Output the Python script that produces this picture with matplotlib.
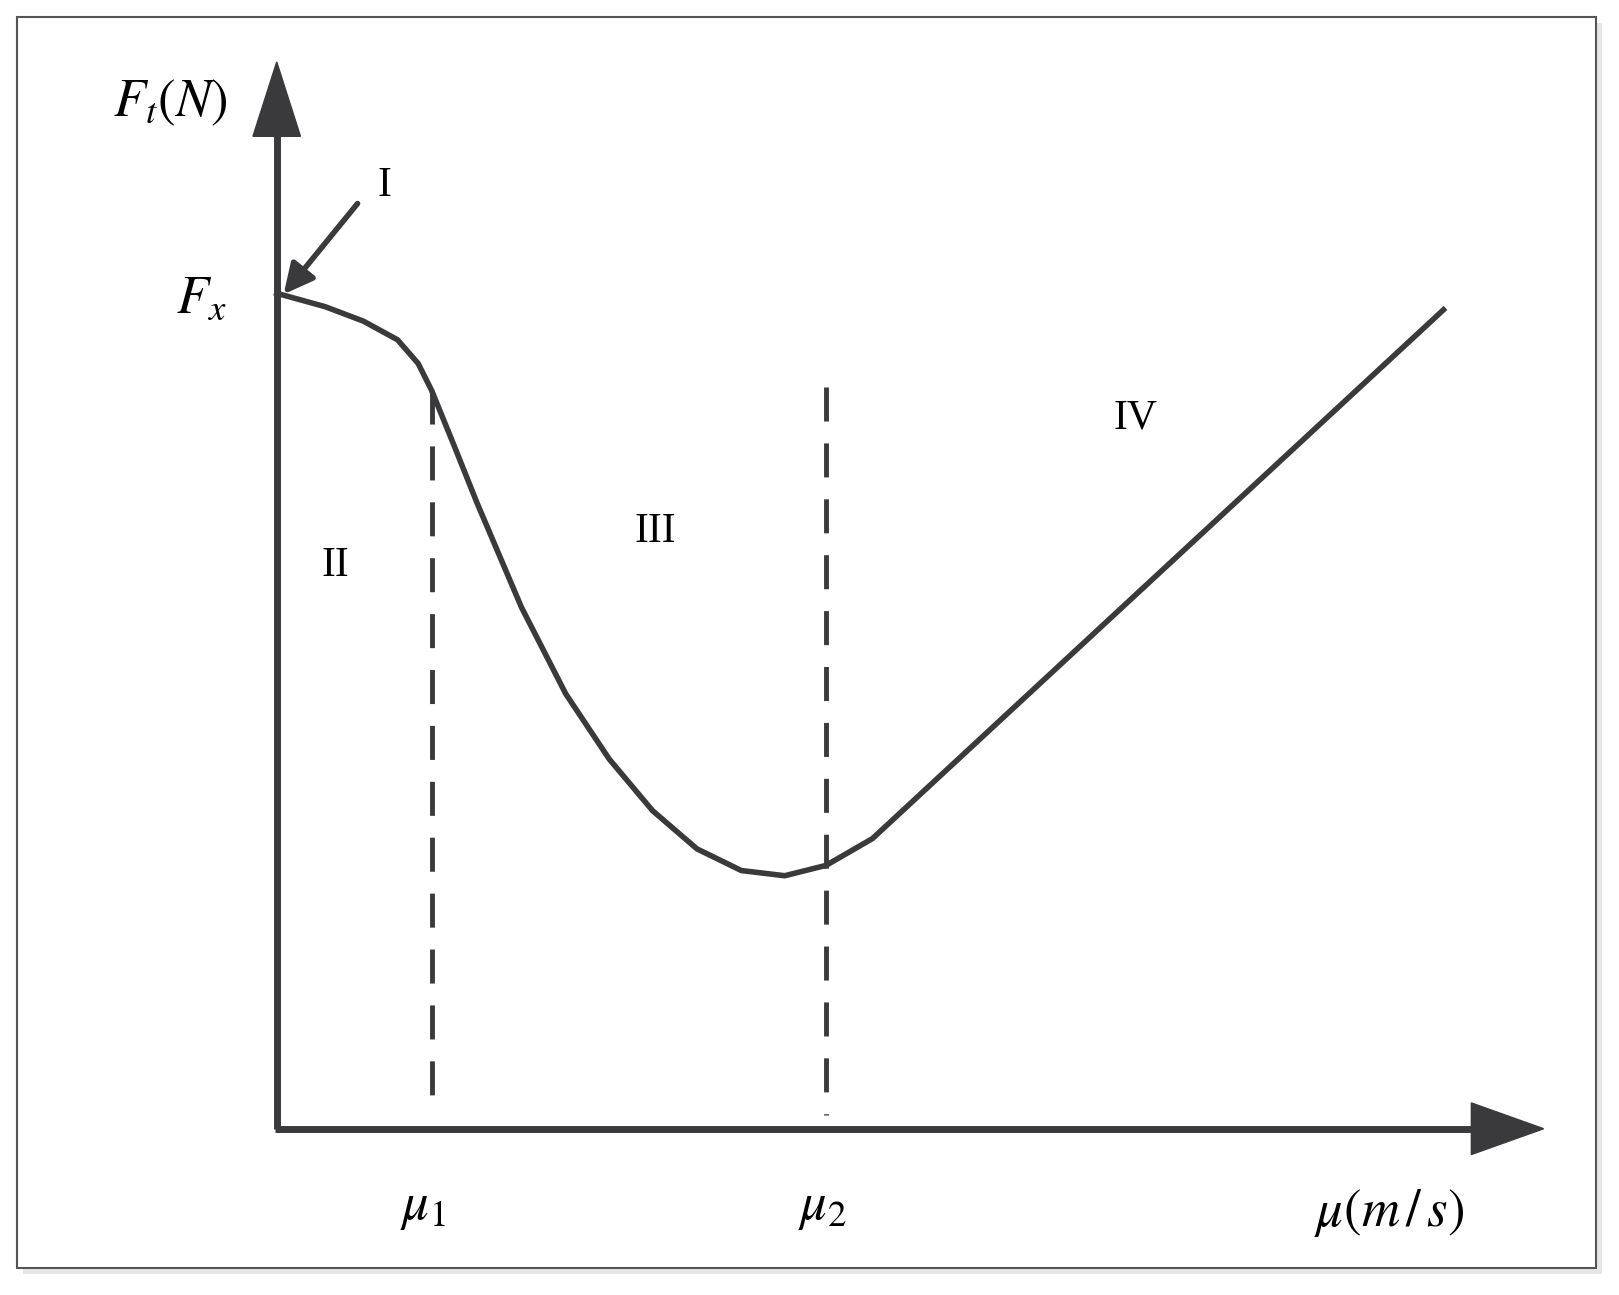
import matplotlib
matplotlib.use("Agg")
import matplotlib.pyplot as plt
from matplotlib.patches import Polygon, Rectangle, FancyArrowPatch

plt.rcParams['mathtext.fontset'] = 'stix'
plt.rcParams['font.family'] = ['Liberation Serif', 'DejaVu Serif']

# curve (image-space units, y downward)
curve_x = [268, 315, 352, 385, 405, 418, 440, 462, 505, 548, 590, 632, 675, 718, 760, 800, 845, 1398]
curve_y = [284, 297, 311, 329, 352, 378, 432, 487, 588, 672, 735, 785, 822, 843, 848, 838, 812, 300]
dash_x = [418, 800]
dash_top = [378, 375]
region_labels = ["I", "II", "III", "IV"]
region_pos = [(372, 180), (325, 548), (635, 515), (1100, 405)]

C = '#3a3a3c'
fig = plt.figure(figsize=(16.19, 12.95), dpi=100)
ax = fig.add_axes([0, 0, 1, 1])
ax.set_xlim(0, 1568); ax.set_ylim(1254, 0); ax.axis('off')

ax.add_patch(Rectangle((22, 22), 1530, 1212, fc='#e6e6e6', ec='none'))
ax.add_patch(Rectangle((16, 16), 1530, 1212, fc='white', ec='#555555', lw=1.5))

# axes
ax.plot([268, 268], [1093, 120], color=C, lw=5, solid_capstyle='butt')
ax.add_patch(Polygon([[245, 132], [291, 132], [268, 60]], color=C))
ax.plot([266, 1430], [1093, 1093], color=C, lw=5, solid_capstyle='butt')
ax.add_patch(Polygon([[1425, 1068], [1425, 1118], [1495, 1093]], color=C))

for x, t in zip(dash_x, dash_top):
    ax.plot([x, x], [t, 1080], color=C, lw=3.5, dashes=(7, 4.5))

ax.plot(curve_x, curve_y, color=C, lw=4)

ax.add_patch(FancyArrowPatch((348, 195), (273, 287), arrowstyle='-|>,head_length=18,head_width=9',
                             color=C, lw=4, mutation_scale=1))

fs = 30
for lab, (x, y) in zip(region_labels, region_pos):
    ax.text(x, y, lab, fontsize=fs, ha='center', va='center', color='black')

ax.text(165, 100, r'$F_t(N)$', fontsize=38, ha='center', va='center')
ax.text(195, 290, r'$F_x$', fontsize=38, ha='center', va='center')
ax.text(410, 1170, r'$\mu_1$', fontsize=38, ha='center', va='center')
ax.text(797, 1170, r'$\mu_2$', fontsize=38, ha='center', va='center')
ax.text(1345, 1175, r'$\mu(m\,/\,s)$', fontsize=38, ha='center', va='center')

fig.savefig('out.png', dpi=100)
